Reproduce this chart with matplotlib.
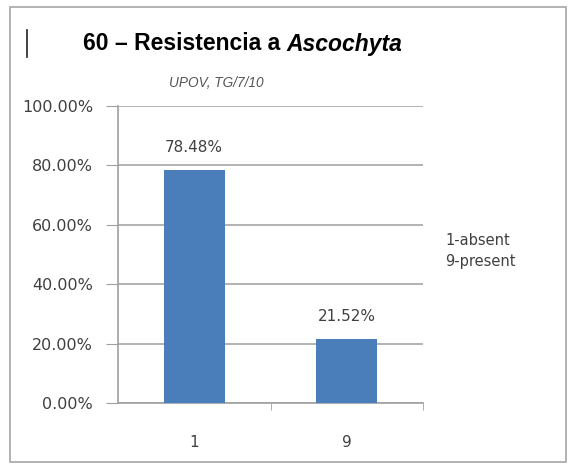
import matplotlib.pyplot as plt
from matplotlib.patches import Rectangle

# datos del grafico
categorias = ['1', '9']
valores = [78.48, 21.52]
etiquetas = ['78.48%', '21.52%']
ticks_y = [0, 20, 40, 60, 80, 100]
leyenda = '1-absent\n9-present'

plt.rcParams['font.family'] = ['DejaVu Sans']

fig = plt.figure(figsize=(5.76, 4.66), dpi=100)
fig.patch.set_facecolor('white')

# marco exterior
fig.add_artist(Rectangle((10 / 576, 1 - 462 / 466), 556 / 576, 455 / 466,
                         transform=fig.transFigure, fill=False,
                         edgecolor='#a6a6a6', linewidth=1.2))
fig.add_artist(plt.Line2D([27 / 576, 27 / 576], [1 - 57 / 466, 1 - 30 / 466],
                          transform=fig.transFigure, color='#222222', linewidth=1.2))

ax = fig.add_axes([118 / 576, 1 - 403 / 466, 305 / 576, 297 / 466])
x = list(range(len(categorias)))
barras = ax.bar(x, valores, width=0.4, color='#4a7ebb', zorder=3)

for xi, v, t in zip(x, valores, etiquetas):
    ax.text(xi, v + 5.0, t, ha='center', va='bottom', fontsize=11, color='#404040')

ax.set_xlim(-0.5, 1.5)
ax.set_ylim(0, 100)
ax.set_yticks(ticks_y)
ax.set_yticklabels(['%.2f%%' % t for t in ticks_y], fontsize=11.5, color='#404040')
ax.set_xticks(x)
ax.set_xticklabels(categorias, fontsize=11, color='#404040')
ax.set_xticks([0.5, 1.5], minor=True)
ax.tick_params(axis='x', which='major', length=0, pad=23)
ax.tick_params(axis='x', which='minor', length=5, color='#a0a0a0', direction='out')
ax.tick_params(axis='y', length=9, color='#a0a0a0', direction='out', pad=9)

ax.grid(axis='y', color='#a6a6a6', linewidth=1.2, zorder=0)
for s in ['top', 'right']:
    ax.spines[s].set_visible(False)
ax.spines['left'].set_color('#a0a0a0')
ax.spines['bottom'].set_color('#a0a0a0')
ax.spines['left'].set_linewidth(1.2)
ax.spines['bottom'].set_linewidth(1.2)

# titulo en dos partes: normal en negrita + cursiva en negrita
t1 = fig.text(83 / 576, 1 - 44 / 466, '60 \u2013 Resistencia a ', ha='left', va='center',
              fontsize=16.5, fontweight='bold', color='black', family='Liberation Sans')
fig.canvas.draw()
bb = t1.get_window_extent()
fig.text(bb.x1 / fig.bbox.width, 1 - 44 / 466, 'Ascochyta', ha='left', va='center',
         fontsize=16.5, fontweight='bold', style='italic', color='black',
         family='Liberation Sans')

fig.text(216 / 576, 1 - 83 / 466, 'UPOV, TG/7/10', ha='center', va='center',
         fontsize=9.8, style='italic', color='#555555', family='Liberation Sans')
fig.text(445 / 576, 1 - 251 / 466, leyenda, ha='left', va='center',
         fontsize=10.5, color='#404040', linespacing=1.45)

plt.savefig('out.png', dpi=100)
